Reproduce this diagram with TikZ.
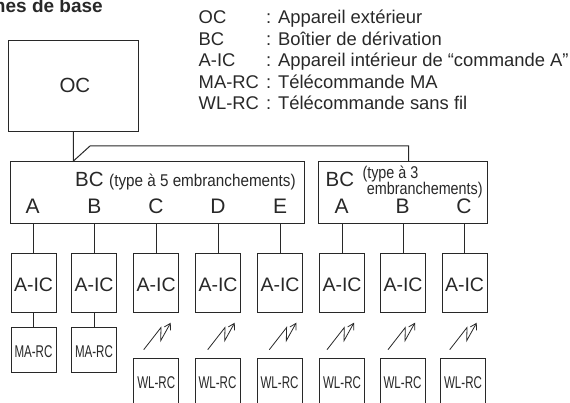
\documentclass[tikz,border=0pt]{standalone}
\usepackage{fontspec}
\setmainfont{Liberation Sans}
\usetikzlibrary{arrows.meta,positioning,calc}
\definecolor{ink}{RGB}{40,40,40}
\newcommand{\fsz}[1]{\fontsize{#1}{#1}\selectfont}
\newcommand{\tight}[2]{\scalebox{#1}[1]{#2}}
\tikzset{
  box/.style={draw=ink,line width=1pt,inner sep=0pt,text=ink},
  icbox/.style={box,minimum width=45pt,minimum height=59.5pt,font=\fsz{19.5},text height=17.4pt,text depth=0pt},
  rcbox/.style={box,minimum width=45pt,minimum height=45pt,font=\fsz{17},text height=15pt,text depth=0pt},
  port/.style={inner sep=0pt,text=ink,font=\fsz{21},anchor=base},
  legend/.style={inner sep=0pt,text=ink,font=\fsz{18.4},anchor=base west},
  note/.style={inner sep=0pt,text=ink,font=\fsz{17},anchor=base west},
  lnk/.style={draw=ink,line width=1pt},
  radio/.style={draw=ink,line width=.8pt,-{Straight Barb[length=6pt,width=7pt]}},
}
% one wireless link, starts at a named coordinate
\newcommand{\zap}[1]{\draw[radio] (#1) -- ++(17.3,-22.2) -- ++(-.3,13.2) -- ++(10,-18);}
\begin{document}
\begin{tikzpicture}[x=1pt,y=-1pt]
\clip (0,0) rectangle (570,403);
% title and legend
\node[inner sep=0pt,text=ink,anchor=base east,font=\fsz{19}\bfseries] (title) at (103,12.3) {mes de base};
\node[legend] (l1) at (198.5,24) {OC};
\node[legend] (l2) at (198.5,45.5) {BC};
\node[legend] (l3) at (198.5,66.8) {A-IC};
\node[legend] (l4) at (198.5,88.3) {MA-RC};
\node[legend] (l5) at (198.5,110) {WL-RC};
\node[legend] (t1) at (266,24) {: Appareil extérieur};
\node[legend] (t2) at (266,45.5) {: Boîtier de dérivation};
\node[legend] (t3) at (266,66.8) {: Appareil intérieur de “commande A”};
\node[legend] (t4) at (266,88.3) {: Télécommande MA};
\node[legend] (t5) at (266,110) {: Télécommande sans fil};
% outdoor unit and branch boxes
\node[box,minimum width=130pt,minimum height=91.5pt,font=\fsz{20.5}] (oc) at (73.4,85.9) {\hspace{3pt}OC};
\node[box,minimum width=294pt,minimum height=61.5pt] (bcf) at (157,192.3) {};
\node[box,minimum width=169pt,minimum height=61.5pt] (bct) at (403,192.3) {};
\node[port,anchor=base west,font=\fsz{20.5}] (bcfa) at (75,186.5) {BC};
\node[note] (bcfb) at (109,186.5) {\tight{.897}{(type à 5 embranchements)}};
\node[port,anchor=base west,font=\fsz{20.5}] (bcta) at (325.5,186.5) {BC};
\node[note] (bctb) at (362.3,179) {\tight{.845}{(type à 3}};
\node[note] (bctc) at (366.7,194.5) {\tight{.845}{embranchements)}};
% ports
\node[port] (pa) at (32.7,213.3) {A};
\node[port] (pb) at (94.3,213.3) {B};
\node[port] (pc) at (156,213.3) {C};
\node[port] (pd) at (218,213.3) {D};
\node[port] (pe) at (280,213.3) {E};
\node[port] (qa) at (341.7,213.3) {A};
\node[port] (qb) at (402.5,213.3) {B};
\node[port] (qc) at (464,213.3) {C};
% indoor units
\node[icbox] (ica) at (33.5,283) {A-IC};
\node[icbox] (icb) at (94,283) {A-IC};
\node[icbox] (icc) at (156.2,283) {A-IC};
\node[icbox] (icd) at (218,283) {A-IC};
\node[icbox] (ice) at (280,283) {A-IC};
\node[icbox] (icf) at (342,283) {A-IC};
\node[icbox] (icg) at (403,283) {A-IC};
\node[icbox] (ich) at (464.5,283) {A-IC};
% remote controllers
\node[rcbox] (ma) at (33.5,349.8) {\tight{.68}{MA-RC}};
\node[rcbox] (mb) at (94,349.8) {\tight{.68}{MA-RC}};
\node[rcbox,anchor=north] (wc) at (156.2,358.3) {\tight{.68}{WL-RC}};
\node[rcbox,anchor=north] (wd) at (217.5,358.3) {\tight{.68}{WL-RC}};
\node[rcbox,anchor=north] (we) at (279.5,358.3) {\tight{.68}{WL-RC}};
\node[rcbox,anchor=north] (wf) at (342,358.3) {\tight{.68}{WL-RC}};
\node[rcbox,anchor=north] (wg) at (402.5,358.3) {\tight{.68}{WL-RC}};
\node[rcbox,anchor=north] (wh) at (463,358.3) {\tight{.68}{WL-RC}};
% wiring
\coordinate (feed) at (oc.south |- bcf.north);
\coordinate (bend) at (90,146);
\coordinate (drop) at (408.7,146);
\draw[lnk] (oc.south) -- (feed) -- (bend) -- (drop) -- (drop |- bct.north);
\draw[lnk] (ica.north |- bcf.south) -- (ica.north);
\draw[lnk] (icb.north |- bcf.south) -- (icb.north);
\draw[lnk] (icc.north |- bcf.south) -- (icc.north);
\draw[lnk] (icd.north |- bcf.south) -- (icd.north);
\draw[lnk] (ice.north |- bcf.south) -- (ice.north);
\draw[lnk] (icf.north |- bct.south) -- (icf.north);
\draw[lnk] (icg.north |- bct.south) -- (icg.north);
\draw[lnk] (ich.north |- bct.south) -- (ich.north);
\draw[lnk] (ica.south) -- (ma.north);
\draw[lnk] (icb.south) -- (mb.north);
% wireless links
\coordinate (za) at (143.7,349.7);
\coordinate (zb) at (207.7,349.7);
\coordinate (zc) at (269.3,349.7);
\coordinate (zd) at (327,349.7);
\coordinate (ze) at (388,349.7);
\coordinate (zf) at (449.7,349.7);
\zap{za}
\zap{zb}
\zap{zc}
\zap{zd}
\zap{ze}
\zap{zf}
\end{tikzpicture}
\end{document}
